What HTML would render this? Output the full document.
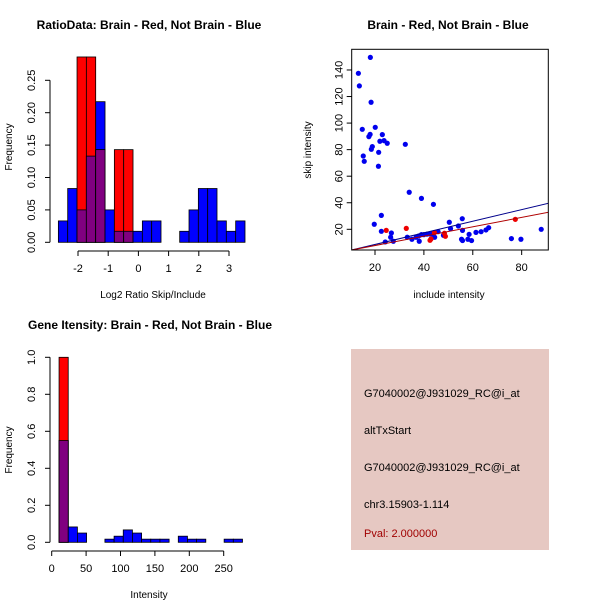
<!DOCTYPE html>
<html><head><meta charset="utf-8"><style>
html,body{margin:0;padding:0;background:#fff;}
svg{display:block;font-family:"Liberation Sans",sans-serif;}
</style></head><body>
<svg id="c" width="600" height="600" viewBox="0 0 600 600">
<rect x="0" y="0" width="600" height="600" fill="#fff"/>
<text x="149" y="29" font-size="12" font-weight="bold" text-anchor="middle">RatioData: Brain - Red, Not Brain - Blue</text>
<text x="448" y="29" font-size="12" font-weight="bold" text-anchor="middle">Brain - Red, Not Brain - Blue</text>
<text x="150" y="329" font-size="12" font-weight="bold" text-anchor="middle">Gene Itensity: Brain - Red, Not Brain - Blue</text>
<text x="153" y="298" font-size="10" text-anchor="middle">Log2 Ratio Skip/Include</text>
<text x="12" y="147" font-size="10" text-anchor="middle" transform="rotate(-90 12 147)">Frequency</text>
<text x="449" y="298" font-size="10" text-anchor="middle">include intensity</text>
<text x="311" y="150" font-size="10" text-anchor="middle" transform="rotate(-90 311 150)">skip intensity</text>
<text x="149" y="598" font-size="10" text-anchor="middle">Intensity</text>
<text x="12" y="450" font-size="10" text-anchor="middle" transform="rotate(-90 12 450)">Frequency</text>
<g id="p1"></g>
<g id="p2"></g>
<g id="p3"></g>
<g>
<rect x="351" y="349" width="198" height="201" fill="#e6c8c2"/>
<text x="364" y="397" font-size="11">G7040002@J931029_RC@i_at</text>
<text x="364" y="434" font-size="11">altTxStart</text>
<text x="364" y="471" font-size="11">G7040002@J931029_RC@i_at</text>
<text x="364" y="508" font-size="11">chr3.15903-1.114</text>
<text x="364" y="537" font-size="11" fill="#a00000">Pval: 2.000000</text>
</g>
</svg>
<script>
// Panel 1 data
var ratioBinStart = -2.65;
var ratioBinWidth = 0.309;
var ratioBlue = [0.033,0.083,0.05,0.133,0.217,0.05,0.017,0.017,0.017,0.033,0.033,0,0,0.017,0.05,0.083,0.083,0.033,0.017,0.033];
var ratioRed  = [0,0,0.286,0.286,0.143,0,0.143,0.143,0,0,0,0,0,0,0,0,0,0,0,0];
var ratioXTicks = [-2,-1,0,1,2,3];
var ratioYTicks = [0,0.05,0.10,0.15,0.20,0.25];
var ratioYLabels = ["0.00","0.05","0.10","0.15","0.20","0.25"];
// Panel 2 data
var blueX = [13.2,13.6,18.1,18.4,14.8,15.2,15.6,20.1,18,17.5,18.9,18.5,23,22,23.7,25,21.5,21.4,32.4,34,39,43.9,22.6,19.7,22.6,24.2,26.7,26.4,27.5,33.2,35.1,36.8,37.9,39,40,41.2,42.3,43.3,38.1,44.4,45.8,50.4,50.9,54.1,55.7,55.8,48,55.4,55.8,58,59.5,58.5,61.3,63.4,65.4,66.5,75.8,79.7,88];
var blueY = [137.5,128,149.5,115.7,95.3,75.2,71.2,96.8,91.5,89.8,82.3,80.3,91.3,86.3,86.8,84.8,78,67.5,84,47.9,43.3,38.8,30.5,23.8,18.5,10.5,17.2,14,11,14,12.5,14,15,16,16,16.3,16.5,16.5,11,14,18.2,25.3,20.5,22.5,28,19.2,15.5,12.5,11.5,12.5,11.5,16.2,17.7,18.2,19.5,21.2,13,12.5,20];
var redX = [24.6,32.8,42.5,42.9,44.3,48.4,48.8,77.4];
var redY = [19.2,20.7,11.7,12.7,17.5,17,14.7,27.5];
var blueFit = [-0.17,0.437];
var redFit = [0.71,0.353];
var scatXTicks = [20,40,60,80];
var scatYTicks = [20,40,60,80,100,120,140];
// Panel 3 data
var intBinStart = 10.7;
var intBinWidth = 13.33;
var intBlue = [0.55,0.083,0.05,0,0,0.017,0.033,0.067,0.05,0.017,0.017,0.017,0,0.033,0.017,0.017,0,0,0.017,0.017];
var intRed  = [1.0,0,0,0,0,0,0,0,0,0,0,0,0,0,0,0,0,0,0,0];
var intXTicks = [0,50,100,150,200,250];
var intYTicks = [0,0.2,0.4,0.6,0.8,1.0];
var intYLabels = ["0.0","0.2","0.4","0.6","0.8","1.0"];

var NS="http://www.w3.org/2000/svg";
function mk(parent,tag,attrs){var e=document.createElementNS(NS,tag);for(var k in attrs)e.setAttribute(k,attrs[k]);parent.appendChild(e);return e;}

function hist(g,opt){
  var sx=function(v){return opt.x0+(v-opt.xv0)*opt.kx;};
  var sy=function(v){return opt.y0-v*opt.ky;};
  for(var i=0;i<opt.blue.length;i++){
    var a=opt.bs+i*opt.bw,b=a+opt.bw;
    var x1=sx(a),x2=sx(b);
    var bv=opt.blue[i],rv=opt.red[i];
    if(bv>0){var r=mk(g,'rect',{x:x1,y:sy(bv),width:x2-x1,height:sy(0)-sy(bv),fill:'#0000ff',stroke:'#000','stroke-width':0.8});
      }
    if(rv>0){var r2=mk(g,'rect',{x:x1,y:sy(rv),width:x2-x1,height:sy(0)-sy(rv),fill:'#ff0000',stroke:'#000','stroke-width':0.8});
      }
    var m=Math.min(bv,rv);
    if(m>0){var r3=mk(g,'rect',{x:x1,y:sy(m),width:x2-x1,height:sy(0)-sy(m),fill:'#800080',stroke:'#000','stroke-width':0.8});
      }
  }
  var xt=opt.xt, ay=opt.xAxisY;
  mk(g,'line',{x1:sx(xt[0]),x2:sx(xt[xt.length-1]),y1:ay,y2:ay,stroke:'#000'});
  xt.forEach(function(t){
    mk(g,'line',{x1:sx(t),x2:sx(t),y1:ay,y2:ay+5,stroke:'#000'});
    var tx=mk(g,'text',{x:sx(t),y:ay+21,'font-size':11,'text-anchor':'middle'});tx.textContent=t;
    
  });
  var yt=opt.yt, ax=opt.yAxisX;
  mk(g,'line',{x1:ax,x2:ax,y1:sy(yt[0]),y2:sy(yt[yt.length-1]),stroke:'#000'});
  yt.forEach(function(t,i){
    var y=sy(t);
    mk(g,'line',{x1:ax-5,x2:ax,y1:y,y2:y,stroke:'#000'});
    var tx=mk(g,'text',{x:ax-15,y:y,'font-size':11,'text-anchor':'middle',transform:'rotate(-90 '+(ax-15)+' '+y+')'});tx.textContent=opt.yl[i];
    
  });
}
hist(document.getElementById('p1'),{blue:ratioBlue,red:ratioRed,bs:ratioBinStart,bw:ratioBinWidth,x0:78,xv0:-2,kx:30.2,y0:242.3,ky:648,xt:ratioXTicks,yt:ratioYTicks,yl:ratioYLabels,xAxisY:251,yAxisX:50});
hist(document.getElementById('p3'),{blue:intBlue,red:intRed,bs:intBinStart,bw:intBinWidth,x0:51.7,xv0:0,kx:0.688,y0:542.3,ky:185,xt:intXTicks,yt:intYTicks,yl:intYLabels,xAxisY:551,yAxisX:50});

(function(){
  var g=document.getElementById('p2');
  var sx=function(v){return 375+(v-20)*2.4445;};
  var sy=function(v){return 229.3-(v-20)*1.3277;};
  var L=351.7,R=548.3,T=49.3,B=250;
  var cp=mk(g,'clipPath',{id:'clipS'});mk(cp,'rect',{x:L,y:T,width:R-L,height:B-T});
  var pts=mk(g,'g',{'clip-path':'url(#clipS)'});
  for(var i=0;i<blueX.length;i++){var c=mk(pts,'circle',{cx:sx(blueX[i]),cy:sy(blueY[i]),r:2.6,fill:'#0000ee'});
    }
  for(var j=0;j<redX.length;j++){var c2=mk(pts,'circle',{cx:sx(redX[j]),cy:sy(redY[j]),r:2.6,fill:'#ee0000'});
    }
  var xa=0,xb=100;
  var l1=mk(pts,'line',{x1:sx(xa),y1:sy(blueFit[0]+blueFit[1]*xa),x2:sx(xb),y2:sy(blueFit[0]+blueFit[1]*xb),stroke:'#00008b','stroke-width':1});
  
  var l2=mk(pts,'line',{x1:sx(xa),y1:sy(redFit[0]+redFit[1]*xa),x2:sx(xb),y2:sy(redFit[0]+redFit[1]*xb),stroke:'#b00000','stroke-width':1});
  
  var box=mk(g,'rect',{x:L,y:T,width:R-L,height:B-T,fill:'none',stroke:'#000'});
  
  scatXTicks.forEach(function(t){
    mk(g,'line',{x1:sx(t),x2:sx(t),y1:B,y2:B+5,stroke:'#000'});
    var tx=mk(g,'text',{x:sx(t),y:B+21,'font-size':11,'text-anchor':'middle'});tx.textContent=t;
    
  });
  scatYTicks.forEach(function(t){
    var y=sy(t);
    mk(g,'line',{x1:L-5,x2:L,y1:y,y2:y,stroke:'#000'});
    var tx=mk(g,'text',{x:L-9,y:y,'font-size':11,'text-anchor':'middle',transform:'rotate(-90 '+(L-9)+' '+y+')'});tx.textContent=t;
    
  });
})();
</script>
</body></html>
